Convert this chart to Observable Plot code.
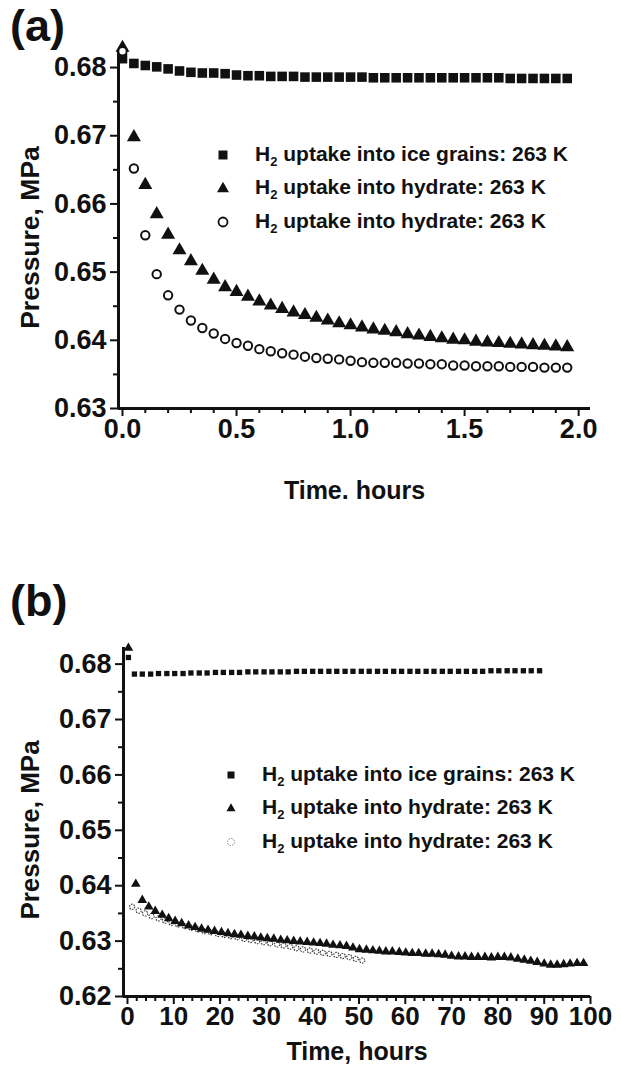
<!DOCTYPE html>
<html><head><meta charset="utf-8">
<script src="https://cdn.jsdelivr.net/npm/d3@7"></script>
<script src="https://cdn.jsdelivr.net/npm/@observablehq/plot@0.6"></script>
<style>
body{margin:0;background:#fff;}
#wrap{position:relative;width:621px;height:1076px;overflow:hidden;font-family:"Liberation Sans",Arial,sans-serif;font-weight:bold;color:#111;}
.letter{font-size:45px;line-height:1.05;}
.lrow{position:absolute;white-space:nowrap;font-size:21px;line-height:22px;}
.lrow sub{font-size:13px;vertical-align:-5px;line-height:0;}
</style></head><body><div id="wrap"></div>
<script>
// ---------- Panel (a) data ----------
const timeA = [0.00,0.05,0.10,0.15,0.20,0.25,0.30,0.35,0.40,0.45,0.50,0.55,0.60,0.65,0.70,0.75,0.80,0.85,0.90,0.95,
  1.00,1.05,1.10,1.15,1.20,1.25,1.30,1.35,1.40,1.45,1.50,1.55,1.60,1.65,1.70,1.75,1.80,1.85,1.90,1.95];
const iceA = [0.6813,0.6806,0.6803,0.6801,0.6798,0.6795,0.6793,0.6792,0.6792,0.6791,0.6789,0.6788,0.6788,0.6787,0.6787,0.6787,0.6786,0.6786,0.6786,0.6786,
  0.6786,0.6786,0.6785,0.6785,0.6785,0.6785,0.6785,0.6785,0.6785,0.6785,0.6785,0.6785,0.6785,0.6785,0.6784,0.6784,0.6784,0.6784,0.6784,0.6784];
const hydTriA = [0.6829,0.6698,0.6628,0.6585,0.6555,0.6532,0.6516,0.6502,0.6489,0.6478,0.6471,0.6464,0.6457,0.6451,0.6446,0.6441,0.6437,0.6433,0.6429,0.6425,
  0.6422,0.6419,0.6416,0.6414,0.6412,0.6409,0.6407,0.6405,0.6403,0.6401,0.6400,0.6398,0.6397,0.6396,0.6395,0.6394,0.6393,0.6392,0.6391,0.6390];
const hydCircA = [0.6824,0.6652,0.6554,0.6497,0.6466,0.6445,0.6429,0.6418,0.6410,0.6402,0.6396,0.6392,0.6387,0.6384,0.6381,0.6379,0.6376,0.6374,0.6373,0.6372,
  0.6370,0.6368,0.6367,0.6367,0.6367,0.6366,0.6366,0.6365,0.6365,0.6363,0.6363,0.6362,0.6362,0.6362,0.6361,0.6361,0.6361,0.6360,0.6360,0.6360];
const xTicksA = [0, 0.5, 1.0, 1.5, 2.0];
const xMinorA = [0.1,0.2,0.3,0.4,0.6,0.7,0.8,0.9,1.1,1.2,1.3,1.4,1.6,1.7,1.8,1.9];
const yTicksA = [0.63, 0.64, 0.65, 0.66, 0.67, 0.68];
const yMinorA = [0.635, 0.645, 0.655, 0.665, 0.675];

// ---------- Panel (b) data ----------
const timeIceB = [0.2,1.5,3.2,5.0,6.7,8.5,10.2,12.0,13.7,15.5,17.2,19.0,20.7,22.5,24.2,26.0,27.7,29.5,31.2,33.0,34.7,36.5,38.2,40.0,41.7,43.5,45.2,47.0,48.7,
  50.5,52.2,54.0,55.7,57.5,59.2,61.0,62.7,64.5,66.2,68.0,69.7,71.5,73.2,75.0,76.7,78.5,80.2,82.0,83.7,85.5,87.2,89.0];
const iceB = [0.6812,0.6782,0.6782,0.6782,0.6783,0.6783,0.6783,0.6783,0.6784,0.6784,0.6784,0.6785,0.6785,0.6785,0.6785,0.6786,0.6786,0.6786,0.6786,0.6786,0.6786,0.6787,0.6787,0.6787,0.6787,0.6787,0.6787,0.6787,0.6787,
  0.6787,0.6787,0.6787,0.6787,0.6787,0.6787,0.6787,0.6787,0.6787,0.6787,0.6787,0.6787,0.6787,0.6787,0.6787,0.6787,0.6788,0.6788,0.6788,0.6788,0.6788,0.6788,0.6788];
const timeTriB = [0.2,1.8,3.2,4.6,6.0,7.5,8.9,10.3,11.7,13.2,14.6,16.0,17.4,18.8,20.3,21.7,23.1,24.5,26.0,27.4,28.8,30.2,31.6,33.1,34.5,35.9,37.3,38.8,40.2,41.6,43.0,44.4,45.9,47.3,48.7,
  50.1,51.6,53.0,54.4,55.8,57.2,58.7,60.1,61.5,62.9,64.4,65.8,67.2,68.6,70.0,71.5,72.9,74.3,75.7,77.2,78.6,80.0,81.4,82.8,84.3,85.7,87.1,88.5,90.0,91.4,92.8,94.2,95.6,97.1,98.5];
const hydTriB = [0.6829,0.6403,0.6374,0.6362,0.6354,0.6347,0.6341,0.6336,0.6332,0.6328,0.6325,0.6322,0.6320,0.6318,0.6316,0.6314,0.6312,0.6311,0.6309,0.6308,0.6306,0.6305,0.6304,0.6302,0.6301,0.6300,0.6299,0.6298,0.6297,0.6296,0.6295,0.6293,0.6292,0.6291,0.6288,
  0.6285,0.6284,0.6283,0.6282,0.6281,0.6281,0.6280,0.6279,0.6278,0.6278,0.6277,0.6277,0.6276,0.6275,0.6273,0.6272,0.6272,0.6271,0.6271,0.6271,0.6270,0.6271,0.6271,0.6270,0.6268,0.6266,0.6264,0.6262,0.6259,0.6257,0.6257,0.6258,0.6259,0.6260,0.6260];
const timeCircB = [1.0,2.4,3.8,5.2,6.7,8.1,9.5,10.9,12.4,13.8,15.2,16.6,18.0,19.5,20.9,22.3,23.7,25.2,26.6,28.0,29.4,30.8,32.3,33.7,35.1,36.5,37.9,39.4,40.8,42.2,43.6,45.1,46.5,47.9,49.3,50.7];
const hydCircB = [0.6362,0.6355,0.6350,0.6345,0.6341,0.6337,0.6333,0.6330,0.6327,0.6324,0.6321,0.6318,0.6316,0.6313,0.6311,0.6309,0.6307,0.6304,0.6302,0.6300,0.6298,0.6296,0.6294,0.6292,0.6290,0.6287,0.6285,0.6283,0.6281,0.6279,0.6277,0.6275,0.6273,0.6271,0.6268,0.6265];
const xTicksB = [0,10,20,30,40,50,60,70,80,90,100];
const xMinorB = [2,4,6,8,12,14,16,18,22,24,26,28,32,34,36,38,42,44,46,48,52,54,56,58,62,64,66,68,72,74,76,78,82,84,86,88,92,94,96,98];
const yTicksB = [0.62,0.63,0.64,0.65,0.66,0.67,0.68];
const yMinorB = [0.625,0.635,0.645,0.655,0.665,0.675];

const legendLabels = ["uptake into ice grains: 263 K", "uptake into hydrate: 263 K", "uptake into hydrate: 263 K"];
const xTitleA = "Time. hours", xTitleB = "Time, hours", yTitle = "Pressure, MPa";

// ---------- helpers ----------
const FONT = '"Liberation Sans",Arial,sans-serif';
const INK = "#111";
const zip = (t, v) => t.map((d, i) => ({t: d, v: v[i]}));
const blank = () => "";

function axes(xMin, yMin, xT, xM, yT, yM, yFmt, xFmt, fs) {
  return [
    Plot.axisY(yM, {anchor: "left", tickSize: 5, tickFormat: blank, strokeWidth: 2, stroke: INK, label: null}),
    Plot.axisY(yT, {anchor: "left", tickSize: 8, tickPadding: 4, tickFormat: yFmt, strokeWidth: 2, stroke: INK, fill: INK, fontSize: 27, label: null}),
    Plot.axisX(xM, {anchor: "bottom", tickSize: 5, tickFormat: blank, strokeWidth: 2, stroke: INK, label: null}),
    Plot.axisX(xT, {anchor: "bottom", tickSize: 8, tickPadding: 2, tickFormat: xFmt, strokeWidth: 2, stroke: INK, fill: INK, fontSize: fs, label: null}),
    Plot.ruleX([xMin], {stroke: INK, strokeWidth: 3}),
    Plot.ruleY([yMin], {stroke: INK, strokeWidth: 3})
  ];
}

const wrap = document.getElementById("wrap");
function place(el, left, top) { el.style.position = "absolute"; el.style.left = left + "px"; el.style.top = top + "px"; wrap.appendChild(el); return el; }
const svgStyle = {fontFamily: FONT, fontWeight: "bold", fontSize: "25px", color: INK, background: "transparent", overflow: "visible"};

// ---------- Panel (a) ----------
const plotA = Plot.plot({
  width: 621, height: 545,
  marginLeft: 118, marginRight: 31, marginTop: 50, marginBottom: 137,
  x: {domain: [-0.0175, 2.052]},
  y: {domain: [0.63, 0.6825]},
  style: svgStyle,
  marks: [
    ...axes(-0.0175, 0.63, xTicksA, xMinorA, yTicksA, yMinorA, d3.format(".2f"), d3.format(".1f"), 27),
    Plot.dot(zip(timeA, iceA), {x: "t", y: "v", symbol: "square", r: 5.4, fill: INK}),
    Plot.dot(zip(timeA, hydTriA), {x: "t", y: "v", symbol: "triangle", r: 5.2, fill: INK}),
    Plot.dot(zip(timeA, hydCircA), {x: "t", y: "v", symbol: "circle", r: 4.2, fill: "white", stroke: INK, strokeWidth: 2}),
    Plot.text([xTitleA], {text: d => d, frameAnchor: "bottom", textAnchor: "middle", lineAnchor: "middle", dy: 82, fill: INK}),
    Plot.text([yTitle], {text: d => d, frameAnchor: "left", textAnchor: "middle", lineAnchor: "middle", rotate: -90, dx: -88, dy: 8, fontSize: 26.5, fill: INK})
  ]
});
place(plotA, 0, 0);

// ---------- Panel (b) ----------
const plotB = Plot.plot({
  width: 621, height: 516,
  marginLeft: 123, marginRight: 31, marginTop: 87, marginBottom: 80,
  x: {domain: [-0.86, 100]},
  y: {domain: [0.62, 0.6830]},
  style: svgStyle,
  marks: [
    ...axes(-0.86, 0.62, xTicksB, xMinorB, yTicksB, yMinorB, d3.format(".2f"), d3.format("d"), 26),
    Plot.dot(zip(timeIceB, iceB), {x: "t", y: "v", symbol: "square", r: 3.0, fill: INK}),
    Plot.dot(zip(timeCircB, hydCircB), {x: "t", y: "v", symbol: "circle", r: 2.6, fill: "white", stroke: "#333", strokeWidth: 1.1, strokeDasharray: "1.6,1.1"}),
    Plot.dot(zip(timeTriB, hydTriB), {x: "t", y: "v", symbol: "triangle", r: 3.6, fill: INK}),
    Plot.text([xTitleB], {text: d => d, frameAnchor: "bottom", textAnchor: "middle", lineAnchor: "middle", dy: 55, fill: INK}),
    Plot.text([yTitle], {text: d => d, frameAnchor: "left", textAnchor: "middle", lineAnchor: "middle", rotate: -90, dx: -93, dy: 8, fontSize: 26, fill: INK})
  ]
});
place(plotB, 0, 560);

// ---------- panel letters ----------
function letter(txt, left, top) { const d = document.createElement("div"); d.className = "letter"; d.textContent = txt; place(d, left, top); }
letter("(a)", 10, 2);
letter("(b)", 10, 577);

// ---------- legends ----------
const NS = "http://www.w3.org/2000/svg";
function marker(kind, size) {
  const s = document.createElementNS(NS, "svg");
  s.setAttribute("width", 16); s.setAttribute("height", 16); s.setAttribute("viewBox", "-8 -8 16 16");
  let el;
  if (kind === "square") { el = document.createElementNS(NS, "rect"); el.setAttribute("x", -size/2); el.setAttribute("y", -size/2); el.setAttribute("width", size); el.setAttribute("height", size); el.setAttribute("fill", INK); }
  else if (kind === "triangle") { el = document.createElementNS(NS, "path"); const h = size * 0.87; el.setAttribute("d", `M0,${-h*0.6}L${size/2},${h*0.4}L${-size/2},${h*0.4}Z`); el.setAttribute("fill", INK); }
  else if (kind === "circle") { el = document.createElementNS(NS, "circle"); el.setAttribute("r", size/2); el.setAttribute("fill", "white"); el.setAttribute("stroke", INK); el.setAttribute("stroke-width", 1.8); }
  else { el = document.createElementNS(NS, "circle"); el.setAttribute("r", size/2); el.setAttribute("fill", "none"); el.setAttribute("stroke", "#888"); el.setAttribute("stroke-width", 1); el.setAttribute("stroke-dasharray", "1.5,1.2"); }
  s.appendChild(el);
  return s;
}
function legend(rows, mx, tx) {
  rows.forEach(([kind, size, cy], i) => {
    const m = marker(kind, size); place(m, mx - 8, cy - 8);
    const r = document.createElement("div"); r.className = "lrow";
    r.innerHTML = "H<sub>2</sub> " + legendLabels[i];
    place(r, tx, cy - 12);
  });
}
legend([["square", 9, 155], ["triangle", 12, 188], ["circle", 9, 222]], 223, 255);
legend([["square", 7, 775], ["triangle", 9, 808], ["dotted", 7, 842]], 231, 262);
</script>
</body></html>
